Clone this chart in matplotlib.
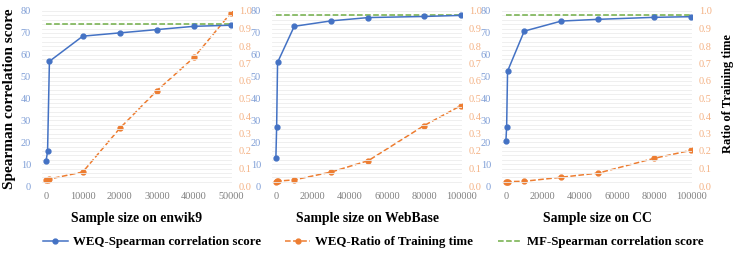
import numpy as np
import matplotlib.pyplot as plt
from matplotlib.lines import Line2D

plt.rcParams['font.family'] = ['Liberation Serif', 'DejaVu Serif']

# enwik9
x_enwik = [100, 500, 1000, 10000, 20000, 30000, 40000, 50000]
sp_enwik = [11.5, 15.8, 57.0, 68.5, 70.0, 71.5, 73.0, 73.5]
rt_enwik = [0.035, 0.037, 0.04, 0.08, 0.33, 0.545, 0.735, 0.99]
mf_enwik = 74.0

# WebBase
x_web = [100, 500, 1000, 10000, 30000, 50000, 80000, 100000]
sp_web = [13.0, 27.0, 56.5, 73.0, 75.5, 77.0, 77.5, 78.0]
rt_web = [0.025, 0.026, 0.028, 0.035, 0.08, 0.145, 0.345, 0.46]
mf_web = 78.0

# CC
x_cc = [100, 500, 1000, 10000, 30000, 50000, 80000, 100000]
sp_cc = [20.5, 27.0, 52.5, 70.8, 75.4, 76.2, 77.1, 77.4]
rt_cc = [0.023, 0.024, 0.025, 0.027, 0.05, 0.074, 0.158, 0.204]
mf_cc = 78.0

names = ['enwik9', 'WebBase', 'CC']
xmax = [50000, 100000, 100000]
xticks = [np.arange(0, 50001, 10000), np.arange(0, 100001, 20000), np.arange(0, 100001, 20000)]

blue = '#4472C4'
orange = '#ED7D31'
green = '#70AD47'
blue_t = '#7F9ED6'
orange_t = '#F4B183'

fig = plt.figure(figsize=(7.36, 2.56), dpi=100)
lefts = [42, 272, 502]
width = 190
data = [(x_enwik, sp_enwik, rt_enwik, mf_enwik),
        (x_web, sp_web, rt_web, mf_web),
        (x_cc, sp_cc, rt_cc, mf_cc)]

for i, (xs, sp, rt, mf) in enumerate(data):
    ax = fig.add_axes([lefts[i] / 736, 1 - 186 / 256, width / 736, 175 / 256])
    ax2 = ax.twinx()
    ax.set_zorder(ax2.get_zorder() + 1)
    ax.patch.set_visible(False)

    for y in np.arange(0, 81, 2):
        ax.axhline(y, color='#ececec', lw=0.6, zorder=0)
    ax.plot([0, xmax[i]], [mf, mf], color=green, ls='--', lw=1.1, zorder=2)
    ax.plot(xs, sp, color=blue, marker='o', ms=3.5, lw=1.1, zorder=3)
    ax2.plot(xs, rt, color=orange, marker='o', ms=3.5, lw=1.1, ls='--')

    ax.set_xlim(-1000 * xmax[i] / 50000, xmax[i] * 1.005)
    ax.set_ylim(0, 80)
    ax2.set_ylim(0, 1.0)
    ax.set_yticks(np.arange(0, 81, 10))
    ax2.set_yticks(np.arange(0, 1.01, 0.1))
    ax2.set_yticklabels(['%.1f' % v for v in np.arange(0, 1.01, 0.1)])
    ax.set_xticks(xticks[i])

    for a in (ax, ax2):
        for s in a.spines.values():
            s.set_visible(False)
        a.tick_params(length=0, labelsize=7.4)
    ax.tick_params(axis='y', colors=blue_t, pad=8)
    ax2.tick_params(axis='y', colors=orange_t, pad=5)
    ax.tick_params(axis='x', colors='#808080', pad=4)
    ax.set_xlabel('Sample size on ' + names[i], fontsize=9.8, fontweight='bold', labelpad=8)
    if i == 0:
        ax.set_ylabel('Spearman correlation score', fontsize=11, fontweight='bold')
        ax.yaxis.set_label_coords(-26 / 190, 0.5)
    if i == 2:
        ax2.set_ylabel('Ratio of Training time', fontsize=9, fontweight='bold')
        ax2.yaxis.set_label_coords(226 / 190, 0.53)
        ax2.yaxis.label.set_va('center')

handles = [Line2D([], [], color=blue, marker='o', ms=3.5, lw=1.1),
           Line2D([], [], color=orange, marker='o', ms=3.5, lw=1.1, ls='--'),
           Line2D([], [], color=green, lw=1.1, ls='--')]
labels = ['WEQ-Spearman correlation score', 'WEQ-Ratio of Training time', 'MF-Spearman correlation score']
fig.legend(handles, labels, loc='center', bbox_to_anchor=(373.5 / 736, 1 - 242 / 256), ncol=3,
           frameon=False, prop={'weight': 'bold', 'size': 9.3},
           columnspacing=1.9, handlelength=1.9, handletextpad=0.4)

fig.savefig('out.png', dpi=100)
